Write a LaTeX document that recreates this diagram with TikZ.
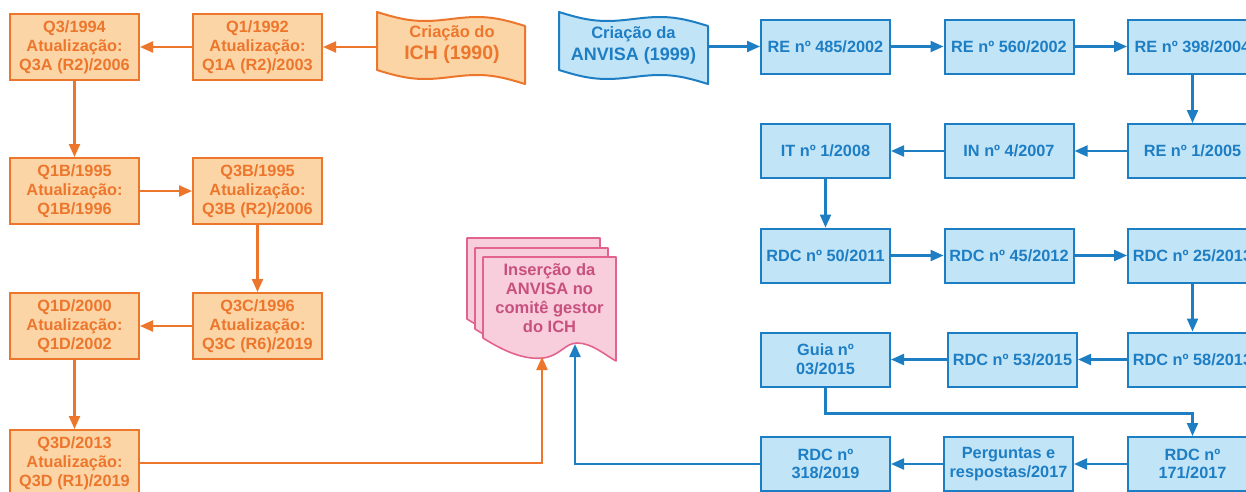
\documentclass[tikz,border=0pt]{standalone}
\usepackage{fontspec}
\setmainfont{Liberation Sans}
\definecolor{ichline}{RGB}{237,118,45}
\definecolor{ichfill}{RGB}{252,213,166}
\definecolor{anvline}{RGB}{30,126,196}
\definecolor{anvfill}{RGB}{194,228,247}
\definecolor{insline}{RGB}{226,100,140}
\definecolor{insfill}{RGB}{248,205,220}
\definecolor{instext}{RGB}{200,80,125}
\usetikzlibrary{arrows.meta}
\usetikzlibrary{positioning}
\newcommand{\boxfont}{\fontsize{16.3}{18.8}\selectfont\bfseries}
% wavy tape: left x, top y, width
\newcommand{\tapepath}[3]{plot[domain=0:#3, samples=40] ({#1+\x}, {#2+14/#3*\x+5*sin(360/#3*\x)}) -- plot[domain=#3:0, samples=40] ({#1+\x}, {#2+58+14/#3*\x+5*sin(360/#3*\x)}) -- cycle}
% document sheet shifted by dx, dy
\newcommand{\sheetpath}[2]{(483+#1,257+#2) -- (616+#1,257+#2) -- (616+#1,361+#2) .. controls (605+#1,355+#2) and (592+#1,343+#2) .. (577+#1,343+#2) .. controls (565+#1,343+#2) and (560+#1,356+#2) .. (543+#1,358+#2) .. controls (525+#1,360+#2) and (505+#1,352+#2) .. (483+#1,338+#2) -- cycle}
\tikzset{
  every node/.style={font=\boxfont, inner sep=0},
  ichbox/.style={draw=ichline, fill=ichfill, text=ichline, line width=2pt,
    minimum width=129pt, minimum height=66pt, align=center},
  anvbox/.style={draw=anvline, fill=anvfill, text=anvline, line width=2pt,
    minimum width=129pt, minimum height=54pt, align=center},
  ichtape/.style={draw=ichline, fill=ichfill, line width=2pt, line join=round},
  anvtape/.style={draw=anvline, fill=anvfill, line width=2pt, line join=round},
  sheet/.style={draw=insline, fill=insfill, line width=1.6pt, line join=round},
  ichflow/.style={-{Triangle[length=13pt,width=11pt]}, draw=ichline, line width=2.2pt},
  anvflow/.style={-{Triangle[length=13pt,width=11pt]}, draw=anvline, line width=2.2pt}
}
\begin{document}
\begin{tikzpicture}[x=1pt, y=-1pt]
  \useasboundingbox (0,0) rectangle (1246,491);
  \fill[white] (0,0) rectangle (1246,491);
  \clip (0,0) rectangle (1246,491);

  % ICH guidelines
  \draw[ichtape] \tapepath{377}{12}{148};
  \node[text=ichline, align=center, minimum width=148pt, font=\fontsize{16.5}{22}\selectfont\bfseries] (ich) at (452,45)
    {Criação do\\{\fontsize{19.5}{22}\selectfont ICH (1990)}};
  \node[ichbox] (q1a) at (257.5,47) {Q1/1992\\Atualização:\\Q1A (R2)/2003};
  \node[ichbox] (q3a) at (74.5,47) {Q3/1994\\Atualização:\\Q3A (R2)/2006};
  \node[ichbox] (q1b) at (74.5,191) {Q1B/1995\\Atualização:\\Q1B/1996};
  \node[ichbox] (q3b) at (257.5,191) {Q3B/1995\\Atualização:\\Q3B (R2)/2006};
  \node[ichbox] (q3c) at (257.5,326) {Q3C/1996\\Atualização:\\Q3C (R6)/2019};
  \node[ichbox] (q1d) at (74.5,326) {Q1D/2000\\Atualização:\\Q1D/2002};
  \node[ichbox] (q3d) at (74.5,463) {Q3D/2013\\Atualização:\\Q3D (R1)/2019};

  % ANVISA in the ICH board
  \draw[sheet] \sheetpath{-16}{-19};
  \draw[sheet] \sheetpath{-8}{-9};
  \draw[sheet] \sheetpath{0}{0};
  \node[text=instext, align=center, font=\fontsize{16.5}{18.8}\selectfont\bfseries] (ins) at (549.5,298)
    {Inserção da\\ANVISA no\\comitê gestor\\do ICH};
  \coordinate (insA) at (542,357);
  \coordinate (insB) at (575,344);

  % ANVISA regulations
  \draw[anvtape] \tapepath{559}{12}{149};
  \node[text=anvline, align=center, minimum width=149pt, font=\fontsize{16.5}{22}\selectfont\bfseries] (anv) at (633.5,45)
    {Criação da\\{\fontsize{18}{22}\selectfont ANVISA (1999)}};
  \node[anvbox] (re485) at (825.5,46.5) {RE nº 485/2002};
  \node[anvbox] (re560) at (1009,46.5) {RE nº 560/2002};
  \node[anvbox] (re398) at (1192.5,46.5) {RE nº 398/2004};
  \node[anvbox] (re1) at (1192.5,151) {RE nº 1/2005};
  \node[anvbox] (in4) at (1009,151) {IN nº 4/2007};
  \node[anvbox] (it1) at (825.5,151) {IT nº 1/2008};
  \node[anvbox] (rdc50) at (825.5,255.5) {RDC nº 50/2011};
  \node[anvbox] (rdc45) at (1009,255.5) {RDC nº 45/2012};
  \node[anvbox] (rdc25) at (1192.5,255.5) {RDC nº 25/2013};
  \node[anvbox] (rdc58) at (1192.5,359.5) {RDC nº 58/2013};
  \node[anvbox] (rdc53) at (1012.5,359.5) {RDC nº 53/2015};
  \node[anvbox] (guia) at (825.5,359.5) {Guia nº\\03/2015};
  \node[anvbox] (rdc171) at (1192.5,464) {RDC nº\\171/2017};
  \node[anvbox] (perg) at (1008.5,464) {Perguntas e\\respostas/2017};
  \node[anvbox] (rdc318) at (825.5,464) {RDC nº\\318/2019};

  % ICH arrows
  \draw[ichflow] (ich.west |- q1a) -- (q1a.east);
  \draw[ichflow] (q1a.west) -- (q3a.east);
  \draw[ichflow] (q3a.south) -- (q1b.north);
  \draw[ichflow] (q1b.east) -- (q3b.west);
  \draw[ichflow] (q3b.south) -- (q3c.north);
  \draw[ichflow] (q3c.west) -- (q1d.east);
  \draw[ichflow] (q1d.south) -- (q3d.north);
  \draw[ichflow] (q3d.east) -| (insA);

  % ANVISA arrows
  \draw[anvflow] (anv.east |- re485) -- (re485.west);
  \draw[anvflow] (re485.east) -- (re560.west);
  \draw[anvflow] (re560.east) -- (re398.west);
  \draw[anvflow] (re398.south) -- (re1.north);
  \draw[anvflow] (re1.west) -- (in4.east);
  \draw[anvflow] (in4.west) -- (it1.east);
  \draw[anvflow] (it1.south) -- (rdc50.north);
  \draw[anvflow] (rdc50.east) -- (rdc45.west);
  \draw[anvflow] (rdc45.east) -- (rdc25.west);
  \draw[anvflow] (rdc25.south) -- (rdc58.north);
  \draw[anvflow] (rdc58.west) -- (rdc53.east);
  \draw[anvflow] (rdc53.west) -- (guia.east);
  \draw[anvflow] (guia.south) -- ++(0,26) -| (rdc171.north);
  \draw[anvflow] (rdc171.west) -- (perg.east);
  \draw[anvflow] (perg.west) -- (rdc318.east);
  \draw[anvflow] (rdc318.west) -| (insB);
\end{tikzpicture}
\end{document}
